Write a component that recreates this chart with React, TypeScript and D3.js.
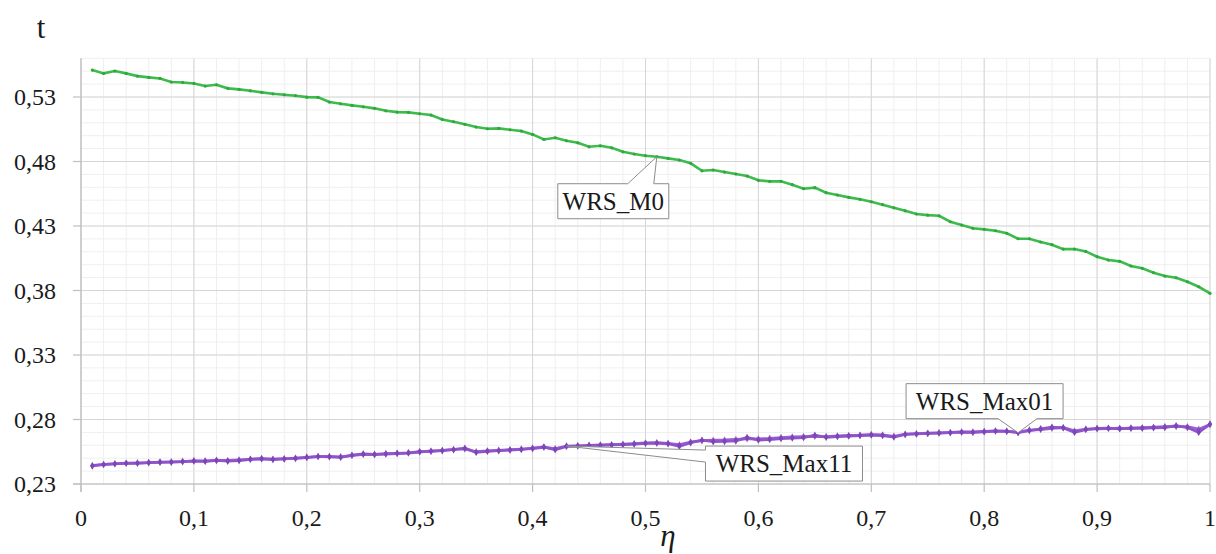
import React from 'react';
import * as d3 from 'd3';

const eta = d3.range(1, 101).map((i) => i / 100);

const wrsM0 = [
  0.5509, 0.5483, 0.5501, 0.5483, 0.5462, 0.5452, 0.5444, 0.5416, 0.5413, 0.5405,
  0.5385, 0.5395, 0.5367, 0.5359, 0.5348, 0.5336, 0.5325, 0.5317, 0.531, 0.5299,
  0.5297, 0.5261, 0.5247, 0.5235, 0.5224, 0.5212, 0.5193, 0.5183, 0.5181, 0.517,
  0.516, 0.5126, 0.5108, 0.5088, 0.5067, 0.5054, 0.5057, 0.5046, 0.5036, 0.501,
  0.4971, 0.4984, 0.4961, 0.4945, 0.4914, 0.4922, 0.4906, 0.4875, 0.4858, 0.4845,
  0.4837, 0.4824, 0.4811, 0.4786, 0.4728, 0.4734, 0.4718, 0.4703, 0.4687, 0.4654,
  0.4646, 0.4646, 0.462, 0.4589, 0.4597, 0.4558, 0.454, 0.4522, 0.4507, 0.4488,
  0.4465, 0.4441, 0.4418, 0.4393, 0.4384, 0.4379, 0.4333, 0.4307, 0.4282, 0.4274,
  0.4263, 0.4243, 0.4201, 0.4201, 0.4176, 0.4155, 0.4121, 0.4121, 0.4103, 0.4062,
  0.4036, 0.4026, 0.399, 0.3972, 0.3938, 0.3912, 0.3899, 0.3868, 0.3829, 0.3778,
];

const wrsMax01 = [
  0.244, 0.2452, 0.2456, 0.2462, 0.246, 0.2466, 0.247, 0.2469, 0.2474, 0.2478,
  0.2476, 0.2484, 0.2477, 0.2482, 0.2493, 0.2495, 0.249, 0.2494, 0.25, 0.2507,
  0.2514, 0.2511, 0.2507, 0.2524, 0.2533, 0.253, 0.2535, 0.2538, 0.2542, 0.2551,
  0.2553, 0.256, 0.2566, 0.2578, 0.2545, 0.2554, 0.2558, 0.2563, 0.2568, 0.2578,
  0.2588, 0.2566, 0.2592, 0.2596, 0.2598, 0.26, 0.2603, 0.2605, 0.261, 0.2615,
  0.2617, 0.2612, 0.2592, 0.262, 0.264, 0.2628, 0.263, 0.2634, 0.266, 0.2641,
  0.2645, 0.2652, 0.2656, 0.266, 0.2678, 0.2662, 0.2668, 0.2672, 0.2676, 0.268,
  0.2676, 0.2664, 0.2684, 0.2688, 0.2692, 0.2695, 0.2698, 0.2702, 0.27, 0.2705,
  0.271, 0.2708, 0.2698, 0.2714, 0.2728, 0.274, 0.2735, 0.27, 0.2722, 0.2731,
  0.2733, 0.2728, 0.2735, 0.2732, 0.2736, 0.2738, 0.2752, 0.2738, 0.27, 0.2765,
];

const wrsMax11 = [
  0.2444, 0.245, 0.2458, 0.246, 0.2464, 0.2465, 0.2468, 0.2472, 0.2473, 0.248,
  0.2479, 0.2481, 0.2483, 0.2486, 0.249, 0.2497, 0.2493, 0.2496, 0.2498, 0.2505,
  0.2512, 0.2514, 0.2511, 0.252, 0.253, 0.2527, 0.2532, 0.2536, 0.254, 0.2548,
  0.2556, 0.2558, 0.2568, 0.2572, 0.255, 0.2556, 0.2561, 0.2566, 0.2571, 0.2574,
  0.2584, 0.2575, 0.2594, 0.2594, 0.26, 0.2603, 0.2605, 0.2608, 0.2612, 0.2618,
  0.262, 0.2615, 0.2605, 0.2625, 0.2636, 0.264, 0.2642, 0.2646, 0.265, 0.265,
  0.2654, 0.266, 0.2665, 0.2668, 0.267, 0.2668, 0.2672, 0.2676, 0.2678, 0.2683,
  0.268, 0.267, 0.2686, 0.269, 0.2694, 0.2697, 0.27, 0.2703, 0.2703, 0.2708,
  0.2712, 0.271, 0.2702, 0.2718, 0.2722, 0.2732, 0.2738, 0.2712, 0.2726, 0.2728,
  0.273, 0.2732, 0.273, 0.2736, 0.274, 0.2745, 0.2745, 0.2744, 0.2725, 0.276,
];

const xTicks = [0, 0.1, 0.2, 0.3, 0.4, 0.5, 0.6, 0.7, 0.8, 0.9, 1];
const yTicks = [0.23, 0.28, 0.33, 0.38, 0.43, 0.48, 0.53];

const W = 1216;
const H = 554;
const SERIF = 'Liberation Serif';

const x = d3.scaleLinear().domain([0, 1]).range([81, 1210]);
const y = d3.scaleLinear().domain([0.23, 0.56]).range([484, 58.3]);

const fmt = (v: number, d: number) => (v === 0 || v === 1 ? String(v) : v.toFixed(d).replace('.', ','));

const line = d3
  .line<number>()
  .x((_, i) => x(eta[i]))
  .y((d) => y(d));

const diamond = d3.symbol().type(d3.symbolDiamond).size(16)();

// callout: rectangle plus wedge pointing to a data point
function calloutPath(
  tx: number, ty: number,
  bx0: number, by0: number, bx1: number, by1: number,
  side: 'top' | 'bottom' | 'left', a: number, b: number,
) {
  const X0 = tx + bx0, X1 = tx + bx1, Y0 = ty + by0, Y1 = ty + by1;
  if (side === 'top') {
    return `M${X0},${Y0}L${tx + a},${Y0}L${tx},${ty}L${tx + b},${Y0}L${X1},${Y0}L${X1},${Y1}L${X0},${Y1}Z`;
  }
  if (side === 'bottom') {
    return `M${X0},${Y0}L${X1},${Y0}L${X1},${Y1}L${tx + b},${Y1}L${tx},${ty}L${tx + a},${Y1}L${X0},${Y1}Z`;
  }
  return `M${X0},${Y0}L${X1},${Y0}L${X1},${Y1}L${X0},${Y1}L${X0},${ty + b}L${tx},${ty}L${X0},${ty + a}Z`;
}

const App = () => {
  const minorX = d3.range(0, 51).map((i) => i / 50);
  const minorY = d3.range(0, 34).map((i) => 0.23 + i / 100);

  const m0 = { tx: x(eta[50]), ty: y(wrsM0[50]) };
  const m01 = { tx: x(eta[82]), ty: y(wrsMax01[82]) };
  const m11 = { tx: x(eta[42]), ty: y(wrsMax11[42]) };

  return (
    <svg width={W} height={H} style={{ position: 'absolute', left: 0, top: 0, background: '#fff' }}>
      {/* minor grid */}
      <g stroke="#efefef" strokeWidth={1}>
        {minorX.map((v) => (
          <line key={'mx' + v} x1={x(v)} x2={x(v)} y1={y(0.56)} y2={y(0.23)} />
        ))}
        {minorY.map((v) => (
          <line key={'my' + v} x1={x(0)} x2={x(1)} y1={y(v)} y2={y(v)} />
        ))}
      </g>
      {/* major grid */}
      <g stroke="#d6d6d6" strokeWidth={1}>
        {xTicks.map((v) => (
          <line key={'gx' + v} x1={x(v)} x2={x(v)} y1={y(0.56)} y2={y(0.23)} />
        ))}
        {yTicks.map((v) => (
          <line key={'gy' + v} x1={x(0)} x2={x(1)} y1={y(v)} y2={y(v)} />
        ))}
      </g>
      {/* axes */}
      <g stroke="#bfbfbf" strokeWidth={1.2}>
        <line x1={x(0)} x2={x(0)} y1={y(0.56)} y2={y(0.23) + 8} />
        <line x1={x(0) - 8} x2={x(1)} y1={y(0.23)} y2={y(0.23)} />
        {xTicks.map((v) => (
          <line key={'tx' + v} x1={x(v)} x2={x(v)} y1={y(0.23)} y2={y(0.23) + 8} />
        ))}
        {yTicks.map((v) => (
          <line key={'ty' + v} x1={x(0) - 8} x2={x(0)} y1={y(v)} y2={y(v)} />
        ))}
      </g>
      <g fill="#1a1a1a">
        {xTicks.map((v) => (
          <text key={'lx' + v} x={x(v)} y={526} textAnchor="middle" fontSize={24} fontFamily={SERIF}>
            {fmt(v, 1)}
          </text>
        ))}
        {yTicks.map((v) => (
          <text key={'ly' + v} x={56} y={y(v) + 8} textAnchor="end" fontSize={24} fontFamily={SERIF}>
            {fmt(v, 2)}
          </text>
        ))}
        <text x={41} y={38} fontSize={31} textAnchor="middle" fontFamily={SERIF}>t</text>
        <text x={668} y={546} fontSize={31} fontStyle="italic" textAnchor="middle" fontFamily={SERIF}>η</text>
      </g>

      {/* series */}
      <path d={line(wrsM0) || ''} fill="none" stroke="#3dbb4c" strokeWidth={2.6} />
      <g fill="#2ea83d">
        {wrsM0.map((v, i) => (
          <circle key={'g' + i} cx={x(eta[i])} cy={y(v)} r={1.6} />
        ))}
      </g>
      <path d={line(wrsMax11) || ''} fill="none" stroke="#9b63d6" strokeWidth={2.8} />
      <path d={line(wrsMax01) || ''} fill="none" stroke="#8e55c9" strokeWidth={2.8} />
      <g fill="#7f45b8">
        {wrsMax01.map((v, i) => (
          <path key={'p' + i} d={diamond || ''} transform={`translate(${x(eta[i])},${y(v)})`} />
        ))}
        {wrsMax11.map((v, i) => (
          <path key={'q' + i} d={diamond || ''} transform={`translate(${x(eta[i])},${y(v)})`} opacity={0.7} />
        ))}
      </g>

      {/* callouts */}
      <g fill="#fff" stroke="#8c8c8c" strokeWidth={1}>
        <path d={calloutPath(m0.tx, m0.ty, -99, 27, 12, 62, 'top', -29, -3)} />
        <path d={calloutPath(m01.tx, m01.ty, -112, -49, 45, -14, 'bottom', -20, 19)} />
        <path d={calloutPath(m11.tx, m11.ty, 139, 0, 296, 35, 'left', 4, 16)} />
      </g>
      <g fill="#1a1a1a" textAnchor="middle">
        <text x={m0.tx - 43.5} y={m0.ty + 53} fontSize={25} fontFamily={SERIF}>WRS_M0</text>
        <text x={m01.tx - 33.5} y={m01.ty - 23} fontSize={25} fontFamily={SERIF}>WRS_Max01</text>
        <text x={m11.tx + 217.5} y={m11.ty + 26} fontSize={25} fontFamily={SERIF}>WRS_Max11</text>
      </g>
    </svg>
  );
};

export default App;
